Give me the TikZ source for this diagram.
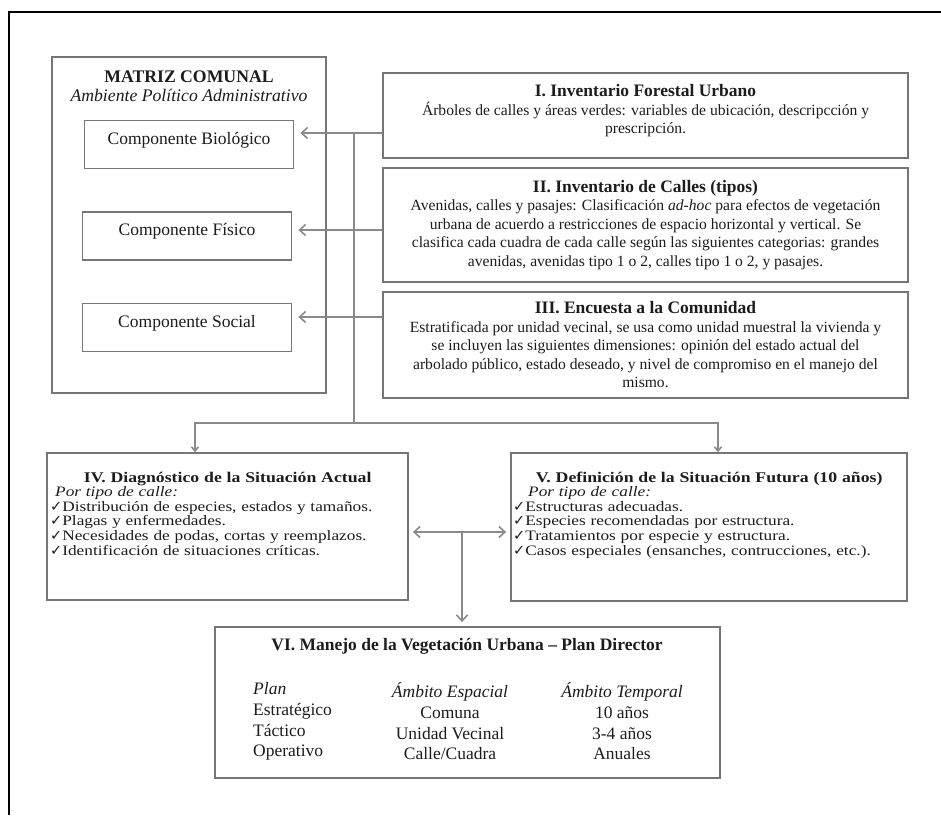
\documentclass[tikz,border=0pt]{standalone}
\usepackage{fontspec}
\setmainfont{Liberation Serif}
\newfontfamily\anchafont[FakeStretch=1.2]{Liberation Serif}
\newfontfamily\marcafont{DejaVu Sans}
\usetikzlibrary{arrows.meta}
\definecolor{borde}{RGB}{118,118,118}
\definecolor{linea}{RGB}{138,138,138}
\definecolor{tinta}{RGB}{28,28,28}
\newcommand{\palomita}{{\marcafont\fontsize{14.5}{10}\selectfont ✓}}
\newcommand{\titlista}[1]{\makebox[\linewidth]{\fontsize{14.8}{14.6}\selectfont\bfseries #1}}
\tikzset{
  caja/.style={draw=borde, line width=1.8pt, inner sep=0pt},
  comp/.style={caja, minimum width=209pt, minimum height=48pt,
    font=\fontsize{17.5}{19}\selectfont, text height=12pt, text depth=13pt},
  inv/.style={caja, minimum width=525pt, align=center,
    font=\fontsize{15.6}{18.5}\selectfont},
  lista/.style={align=left, inner sep=0pt, anchor=base west,
    font=\anchafont\fontsize{14.4}{14.6}\selectfont},
  tabla/.style={inner sep=0pt, font=\fontsize{17.5}{20.7}\selectfont},
  flecha/.style={draw=linea, line width=1.6pt, -{Straight Barb[length=6pt,width=11pt]}},
  flechita/.style={draw=linea, line width=1.6pt, -{Straight Barb[length=4pt,width=7pt]}},
}
\begin{document}
\begin{tikzpicture}[x=1pt, y=-1pt, every node/.append style={text=tinta}]
  \useasboundingbox (0,0) rectangle (941,815);
  % 外枠
  \draw[line width=2.5pt] (9,815) -- (9,12) -- (941,12);
  % MATRIZ COMUNAL の枠
  \node[caja, minimum width=274pt, minimum height=336pt] (matriz) at (189,225) {};
  \node[align=center, font=\fontsize{17.7}{19}\selectfont] (matriztit) at (189,86.5)
    {\textbf{MATRIZ COMUNAL}\\\textit{Ambiente Político Administrativo}};
  % 三つの構成要素
  \node[comp] (bio) at (189,144.5) {Componente Biológico};
  \node[comp] (fis) at (187,236) {Componente Físico};
  \node[comp] (soc) at (187,327.5) {Componente Social};
  % I. Inventario Forestal Urbano
  \node[inv, minimum height=85pt] (invfor) at (645.5,115.5)
    {{\fontsize{17.5}{18.5}\selectfont\bfseries I. Inventario Forestal Urbano}\\
     Árboles de calles y áreas verdes: variables de ubicación, descripcción y\\
     prescripción.\\[-6pt]\mbox{}};
  % II. Inventario de Calles
  \node[inv, minimum height=114pt] (invcal) at (645.5,225)
    {{\fontsize{17.5}{18.5}\selectfont\bfseries II. Inventario de Calles (tipos)}\\
     Avenidas, calles y pasajes: Clasificación \textit{ad-hoc} para efectos de vegetación\\
     urbana de acuerdo a restricciones de espacio horizontal y vertical. Se\\
     clasifica cada cuadra de cada calle según las siguientes categorias: grandes\\
     avenidas, avenidas tipo 1 o 2, calles tipo 1 o 2, y pasajes.};
  % III. Encuesta a la Comunidad
  \node[inv, minimum height=106pt] (invenc) at (645.5,345)
    {{\fontsize{17.5}{18.5}\selectfont\bfseries III. Encuesta a la Comunidad}\\
     Estratificada por unidad vecinal, se usa como unidad muestral la vivienda y\\
     se incluyen las siguientes dimensiones: opinión del estado actual del\\
     arbolado público, estado deseado, y nivel de compromiso en el manejo del\\
     mismo.};
  % IV. Diagnóstico
  \node[caja, minimum width=361pt, minimum height=147pt] (diag) at (227.5,526.5) {};
  \node[lista, text width=355pt] (diagtxt) at (50,482)
    {\titlista{IV. Diagnóstico de la Situación Actual}\\
     \hspace*{5pt}\textit{Por tipo de calle:}\\
     \palomita Distribución de especies, estados y tamaños.\\
     \palomita Plagas y enfermedades.\\
     \palomita Necesidades de podas, cortas y reemplazos.\\
     \palomita Identificación de situaciones críticas.};
  % V. Definición
  \node[caja, minimum width=396pt, minimum height=148pt] (fut) at (709,527) {};
  \node[lista, text width=392pt] (futtxt) at (513,482)
    {\titlista{V. Definición de la Situación Futura (10 años)}\\
     \hspace*{15pt}\textit{Por tipo de calle:}\\
     \palomita Estructuras adecuadas.\\
     \palomita Especies recomendadas por estructura.\\
     \palomita Tratamientos por especie y estructura.\\
     \palomita Casos especiales (ensanches, contrucciones, etc.).};
  % VI. Manejo
  \node[caja, minimum width=505pt, minimum height=151pt] (plan) at (467.5,702.5) {};
  \node[tabla] (plantit) at (467,646.5)
    {\textbf{VI. Manejo de la Vegetación Urbana – Plan Director}};
  \node[tabla, align=left, anchor=west] (colplan) at (253,721.5)
    {\textit{Plan}\\Estratégico\\Táctico\\Operativo};
  \node[tabla, align=center] (colesp) at (450,721.5)
    {\textit{Ámbito Espacial}\\Comuna\\Unidad Vecinal\\Calle/Cuadra};
  \node[tabla, align=center] (coltem) at (622,721.5)
    {\textit{Ámbito Temporal}\\10 años\\3-4 años\\Anuales};
  % 接続線
  \coordinate (n1) at (354,133);
  \coordinate (n2) at (354,230);
  \coordinate (n3) at (354,317);
  \coordinate (n4) at (354,423);
  \coordinate (n5) at (462,532);
  \draw[flecha, shorten >=6pt] (invfor.west |- n1) -- (bio.east |- n1);
  \draw[flecha, shorten >=6pt] (invcal.west |- n2) -- (fis.east |- n2);
  \draw[flecha, shorten >=6pt] (invenc.west |- n3) -- (soc.east |- n3);
  \draw[draw=linea, line width=1.6pt] (n1) -- (n4);
  \draw[flechita] (n4) -| (diag.north -| 195,0);
  \draw[flechita] (n4) -| (fut.north -| 718,0);
  \draw[flecha, {Straight Barb[length=6pt,width=11pt]}-{Straight Barb[length=6pt,width=11pt]},
    shorten <=4pt, shorten >=4pt] (diag.east |- n5) -- (fut.west |- n5);
  \draw[flecha, shorten >=4pt] (n5) -- (plan.north -| n5);
\end{tikzpicture}
\end{document}
